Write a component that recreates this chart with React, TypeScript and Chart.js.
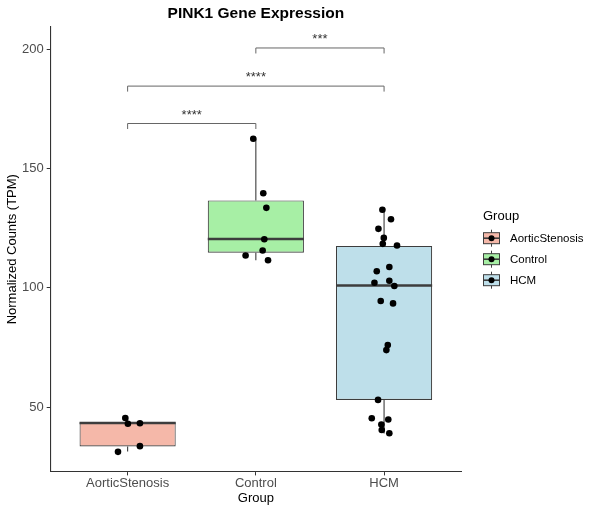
import { useEffect, useRef } from 'react';
import { Chart, registerables } from 'chart.js';

Chart.register(...registerables);

// groups on the x axis
const groups = ['AorticStenosis', 'Control', 'HCM'];
const boxFills = ['#F5B8A9', '#A7EFA5', '#BEDFEA'];

// box summary
const q1 = [33.5, 114.8, 53.0];
const medians = [43.3, 120.5, 101.0];
const q3 = [43.6, 136.7, 117.6];
const whiskerLow = [31.3, 111.6, 38.9];
const whiskerHigh = [45.4, 162.6, 132.8];

// jittered points (x offset from the group centre, value)
const asJitter = [-0.018, 0.002, 0.096, 0.096, -0.075];
const asValues = [45.4, 43.0, 43.2, 33.6, 31.2];
const ctrlJitter = [-0.02, 0.058, 0.082, 0.066, 0.053, -0.08, 0.095];
const ctrlValues = [162.6, 139.7, 133.6, 120.4, 115.7, 113.6, 111.6];
const hcmJitter = [
  -0.013, 0.054, -0.044, -0.002, -0.01, 0.101, -0.057, 0.041, -0.075, 0.041, 0.08,
  -0.026, 0.07, 0.029, 0.018, -0.047, -0.096, 0.033, -0.021, -0.018, 0.041,
];
const hcmValues = [
  132.8, 128.8, 124.8, 121.0, 118.5, 117.8, 107.0, 108.8, 102.2, 103.0, 100.8,
  94.5, 93.5, 76.0, 73.9, 53.0, 45.3, 44.8, 42.7, 40.4, 39.0,
];

// significance brackets
const bracketFrom = [0, 0, 1];
const bracketTo = [1, 2, 2];
const bracketY = [169.0, 184.7, 200.7];
const bracketLabels = ['****', '****', '***'];

const yTicks = [50, 100, 150, 200];
const xTicks = [0, 1, 2];

const legendTitle = 'Group';

const FONT = '"Liberation Sans", Arial, sans-serif';
const EDGE = '#3d3d3d';

// ggplot-like legend key: small box with whisker, median and a dot
function drawKey(ctx: CanvasRenderingContext2D, left: number, cy: number, fill: string) {
  const cx = left + 8.5;
  ctx.strokeStyle = EDGE;
  ctx.lineWidth = 1;
  ctx.beginPath();
  ctx.moveTo(cx, cy - 8.5);
  ctx.lineTo(cx, cy + 8.5);
  ctx.stroke();
  ctx.fillStyle = fill;
  ctx.fillRect(left + 0.5, cy - 5.5, 16, 11);
  ctx.strokeRect(left + 0.5, cy - 5.5, 16, 11);
  ctx.lineWidth = 1.6;
  ctx.beginPath();
  ctx.moveTo(left + 0.5, cy);
  ctx.lineTo(left + 16.5, cy);
  ctx.stroke();
  ctx.fillStyle = '#000';
  ctx.beginPath();
  ctx.arc(cx, cy, 3, 0, Math.PI * 2);
  ctx.fill();
}

const boxExtras = {
  id: 'boxExtras',
  beforeDatasetsDraw(chart: any) {
    const { ctx } = chart;
    const y = chart.scales.y;
    const bars = chart.getDatasetMeta(0).data;
    ctx.save();
    ctx.strokeStyle = EDGE;
    ctx.lineWidth = 1.1;
    bars.forEach((bar: any, i: number) => {
      ctx.beginPath();
      ctx.moveTo(bar.x, y.getPixelForValue(q3[i]));
      ctx.lineTo(bar.x, y.getPixelForValue(whiskerHigh[i]));
      ctx.moveTo(bar.x, y.getPixelForValue(q1[i]));
      ctx.lineTo(bar.x, y.getPixelForValue(whiskerLow[i]));
      ctx.stroke();
    });
    ctx.restore();
  },
  afterDatasetDraw(chart: any, args: any) {
    if (args.index !== 0) return;
    const { ctx } = chart;
    const y = chart.scales.y;
    ctx.save();
    ctx.strokeStyle = EDGE;
    ctx.lineWidth = 2.4;
    args.meta.data.forEach((bar: any, i: number) => {
      const py = y.getPixelForValue(medians[i]);
      ctx.beginPath();
      ctx.moveTo(bar.x - bar.width / 2, py);
      ctx.lineTo(bar.x + bar.width / 2, py);
      ctx.stroke();
    });
    ctx.restore();
  },
  afterDraw(chart: any) {
    const { ctx, chartArea } = chart;
    const x = chart.scales.x;
    const y = chart.scales.y;
    ctx.save();

    // brackets with significance stars
    ctx.strokeStyle = '#666';
    ctx.lineWidth = 1;
    ctx.fillStyle = '#333';
    ctx.font = `13px ${FONT}`;
    ctx.textAlign = 'center';
    ctx.textBaseline = 'alphabetic';
    bracketY.forEach((v, i) => {
      const x0 = x.getPixelForValue(bracketFrom[i]);
      const x1 = x.getPixelForValue(bracketTo[i]);
      const py = y.getPixelForValue(v);
      ctx.beginPath();
      ctx.moveTo(x0, py + 5.5);
      ctx.lineTo(x0, py);
      ctx.lineTo(x1, py);
      ctx.lineTo(x1, py + 5.5);
      ctx.stroke();
      ctx.fillText(bracketLabels[i], (x0 + x1) / 2, py - 5);
    });

    // legend on the right
    const lx = chartArea.right + 22;
    const mid = (chartArea.top + chartArea.bottom) / 2;
    ctx.textAlign = 'left';
    ctx.textBaseline = 'middle';
    ctx.fillStyle = '#000';
    ctx.font = `13px ${FONT}`;
    ctx.fillText(legendTitle, lx, mid - 33);
    ctx.font = `11.5px ${FONT}`;
    groups.forEach((g, i) => {
      const cy = mid - 11 + 21 * i;
      drawKey(ctx, lx, cy, boxFills[i]);
      ctx.fillStyle = '#000';
      ctx.fillText(g, lx + 27, cy + 0.5);
    });
    ctx.restore();
  },
};

export default function App() {
  const canvasRef = useRef<HTMLCanvasElement>(null);

  useEffect(() => {
    if (!canvasRef.current) return;
    document.body.style.margin = '0';

    const points = [
      ...asValues.map((v, i) => ({ x: 0 + asJitter[i], y: v })),
      ...ctrlValues.map((v, i) => ({ x: 1 + ctrlJitter[i], y: v })),
      ...hcmValues.map((v, i) => ({ x: 2 + hcmJitter[i], y: v })),
    ];

    const chart = new Chart(canvasRef.current, {
      type: 'bar',
      data: {
        datasets: [
          {
            type: 'bar',
            data: groups.map((_, i) => ({ x: i, y: [q1[i], q3[i]] })) as any,
            backgroundColor: boxFills,
            borderColor: EDGE,
            borderWidth: 1.1,
            borderSkipped: false,
            barPercentage: 0.75,
            categoryPercentage: 1,
            order: 1,
          },
          {
            type: 'scatter',
            data: points,
            backgroundColor: '#000',
            borderColor: '#000',
            pointRadius: 3.3,
            borderWidth: 0,
            order: 0,
          } as any,
        ],
      },
      options: {
        animation: false,
        responsive: true,
        maintainAspectRatio: false,
        layout: { padding: { left: 6, right: 139, bottom: 10, top: 0 } },
        plugins: {
          title: {
            display: true,
            text: 'PINK1 Gene Expression',
            fullSize: false,
            color: '#000',
            font: { family: FONT, size: 15.5, weight: 'bold' },
            padding: { top: 4, bottom: 4.4 },
          },
          legend: { display: false },
          tooltip: { enabled: false },
        },
        scales: {
          x: {
            type: 'linear',
            min: -0.6,
            max: 2.6,
            offset: false,
            afterBuildTicks: (scale: any) => {
              scale.ticks = xTicks.map((v) => ({ value: v }));
            },
            ticks: {
              color: '#4d4d4d',
              font: { family: FONT, size: 13 },
              padding: 0,
              maxRotation: 0,
              callback: (v: any) => groups[v as number],
            },
            grid: { display: true, offset: false, drawOnChartArea: false, tickLength: 4, color: '#333' },
            border: { display: true, color: '#333', width: 1.1 },
            title: {
              display: true,
              text: 'Group',
              color: '#000',
              font: { family: FONT, size: 13, lineHeight: 1 },
              padding: { top: 1, bottom: 0 },
            },
          },
          y: {
            type: 'linear',
            min: 23,
            max: 209.5,
            afterBuildTicks: (scale: any) => {
              scale.ticks = yTicks.map((v) => ({ value: v }));
            },
            ticks: {
              color: '#4d4d4d',
              font: { family: FONT, size: 13 },
              padding: 3,
            },
            grid: { display: true, drawOnChartArea: false, tickLength: 4, color: '#333' },
            border: { display: true, color: '#333', width: 1.1 },
            title: {
              display: true,
              text: 'Normalized Counts (TPM)',
              color: '#000',
              font: { family: FONT, size: 13, lineHeight: 1 },
              padding: { top: 0, bottom: 0 },
            },
          },
        },
      },
      plugins: [boxExtras],
    });

    return () => chart.destroy();
  }, []);

  return (
    <div style={{ position: 'absolute', left: 0, top: 0, width: 600, height: 515, background: '#fff' }}>
      <canvas ref={canvasRef} />
    </div>
  );
}
